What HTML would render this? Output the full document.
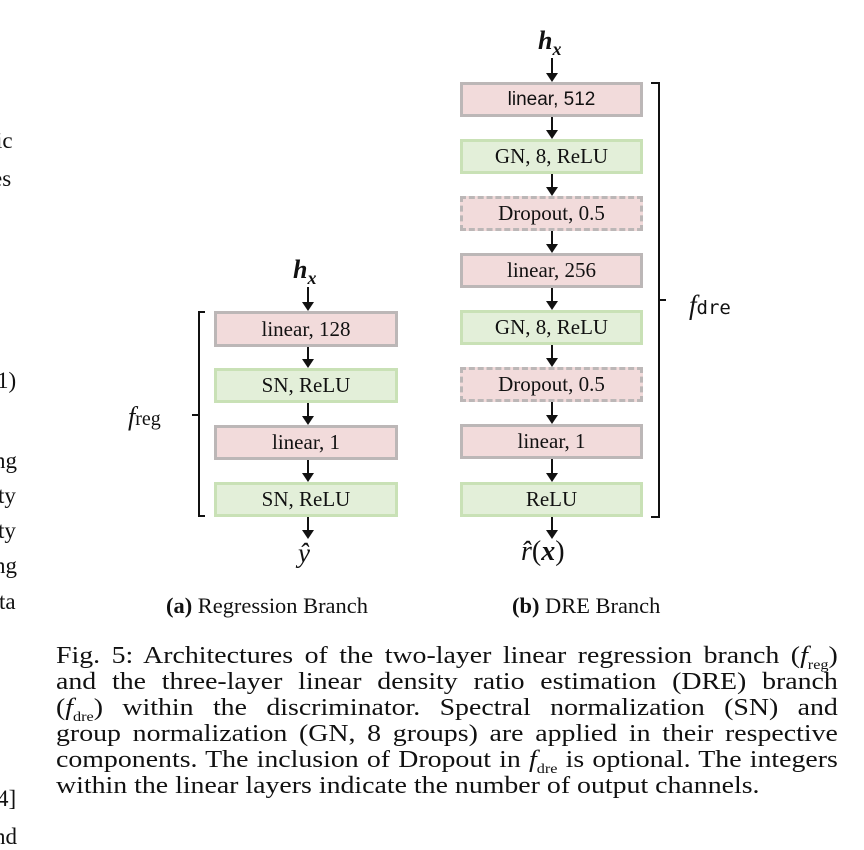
<!DOCTYPE html>
<html><head><style>
body{margin:0;width:864px;height:848px;background:#fff;position:relative;overflow:hidden;font-family:"Liberation Serif",serif;color:#111}
.b{position:absolute;box-sizing:border-box;border:3px solid;display:flex;align-items:center;justify-content:center;font-size:21px}
.p{background:#f2dbdb;border-color:#bcb7b7}
.g{background:#e3efd9;border-color:#c9e1b6}
.d{border-style:dashed}
.s{font-family:"Liberation Sans",sans-serif;font-size:19px}
.a{position:absolute;width:2px;background:#111}
.a:after{content:"";position:absolute;left:-5px;bottom:-2px;border-left:6px solid transparent;border-right:6px solid transparent;border-top:9px solid #111}
.t{position:absolute;white-space:nowrap}
.cap{position:absolute;left:56px;top:643px;width:674px;transform:scaleX(1.16);transform-origin:0 0;font-size:24px;line-height:26px;text-align:justify}
.cap div{text-align-last:justify;height:26px;white-space:nowrap}
</style></head><body>
<div class="t" style="left:0;top:128px;font-size:23px;width:18px;overflow:hidden"><span style="margin-left:-4px">ic</span></div>
<div class="t" style="left:0;top:166px;font-size:23px;width:18px;overflow:hidden"><span style="margin-left:-8px">es</span></div>
<div class="t" style="left:0;top:368px;font-size:23px;width:18px;overflow:hidden"><span style="margin-left:-3px">1)</span></div>
<div class="t" style="left:0;top:448px;font-size:23px;width:18px;overflow:hidden"><span style="margin-left:-6px">ng</span></div>
<div class="t" style="left:0;top:483px;font-size:23px;width:18px;overflow:hidden"><span style="margin-left:-2px">ty</span></div>
<div class="t" style="left:0;top:518px;font-size:23px;width:18px;overflow:hidden"><span style="margin-left:-2px">ty</span></div>
<div class="t" style="left:0;top:553px;font-size:23px;width:18px;overflow:hidden"><span style="margin-left:-6px">ng</span></div>
<div class="t" style="left:0;top:589px;font-size:23px;width:18px;overflow:hidden"><span style="margin-left:-1px">ta</span></div>
<div class="t" style="left:0;top:786px;font-size:23px;width:18px;overflow:hidden"><span style="margin-left:-3px">4]</span></div>
<div class="t" style="left:0;top:824px;font-size:23px;width:18px;overflow:hidden"><span style="margin-left:-6px">nd</span></div>

<div class="t" style="left:293px;top:255px;font-size:26px;font-weight:bold;font-style:italic">h<sub style="font-size:18px">x</sub></div>
<div class="a" style="left:307px;top:287px;height:22px"></div>
<div class="b p" style="left:214px;top:311px;width:184px;height:36px">linear, 128</div>
<div class="a" style="left:307px;top:347px;height:19px"></div>
<div class="b g" style="left:214px;top:368px;width:184px;height:35px">SN, ReLU</div>
<div class="a" style="left:307px;top:403px;height:20px"></div>
<div class="b p" style="left:214px;top:425px;width:184px;height:35px">linear, 1</div>
<div class="a" style="left:307px;top:460px;height:20px"></div>
<div class="b g" style="left:214px;top:482px;width:184px;height:35px">SN, ReLU</div>
<div class="a" style="left:307px;top:517px;height:20px"></div>
<div class="t" style="left:298px;top:538px;font-size:27px;font-style:italic">ŷ</div>
<svg style="position:absolute;left:185px;top:310px" width="30" height="212"><path d="M20 2 H14 V206 H20 M14 105 H7" fill="none" stroke="#111" stroke-width="2"/></svg>
<div class="t" style="left:128px;top:402px;font-size:26px"><i>f</i><span style="font-size:20px">reg</span></div>

<div class="t" style="left:538px;top:26px;font-size:26px;font-weight:bold;font-style:italic">h<sub style="font-size:18px">x</sub></div>
<div class="a" style="left:551px;top:58px;height:22px"></div>
<div class="b p s" style="left:460px;top:82px;width:183px;height:35px">linear, 512</div>
<div class="a" style="left:551px;top:117px;height:20px"></div>
<div class="b g" style="left:460px;top:139px;width:183px;height:35px">GN, 8, ReLU</div>
<div class="a" style="left:551px;top:174px;height:20px"></div>
<div class="b p d" style="left:460px;top:196px;width:183px;height:35px">Dropout, 0.5</div>
<div class="a" style="left:551px;top:231px;height:20px"></div>
<div class="b p" style="left:460px;top:253px;width:183px;height:35px">linear, 256</div>
<div class="a" style="left:551px;top:288px;height:20px"></div>
<div class="b g" style="left:460px;top:310px;width:183px;height:35px">GN, 8, ReLU</div>
<div class="a" style="left:551px;top:345px;height:20px"></div>
<div class="b p d" style="left:460px;top:367px;width:183px;height:35px">Dropout, 0.5</div>
<div class="a" style="left:551px;top:402px;height:20px"></div>
<div class="b p" style="left:460px;top:424px;width:183px;height:35px">linear, 1</div>
<div class="a" style="left:551px;top:459px;height:21px"></div>
<div class="b g" style="left:460px;top:482px;width:183px;height:35px">ReLU</div>
<div class="a" style="left:551px;top:517px;height:20px"></div>
<div class="t" style="left:521px;top:536px;font-size:28px"><i>r̂</i>(<b><i>x</i></b>)</div>
<svg style="position:absolute;left:645px;top:80px" width="30" height="442"><path d="M6 3 H14 V437 H6 M14 220 H21" fill="none" stroke="#111" stroke-width="2"/></svg>
<div class="t" style="left:689px;top:290px;font-size:27px"><i>f</i><span style="font-family:'DejaVu Sans Mono',monospace;font-size:19px">dre</span></div>

<div class="t" style="left:166px;top:593px;font-size:22px;transform:scaleX(1.02);transform-origin:0 0"><b>(a)</b> Regression Branch</div>
<div class="t" style="left:512px;top:593px;font-size:22px;transform:scaleX(1.02);transform-origin:0 0"><b>(b)</b> DRE Branch</div>

<div class="cap">
<div>Fig. 5: Architectures of the two-layer linear regression branch (<i>f</i><sub style="font-size:14px">reg</sub>)</div>
<div>and the three-layer linear density ratio estimation (DRE) branch</div>
<div>(<i>f</i><sub style="font-size:14px">dre</sub>) within the discriminator. Spectral normalization (SN) and</div>
<div>group normalization (GN, 8 groups) are applied in their respective</div>
<div>components. The inclusion of Dropout in <i>f</i><sub style="font-size:14px">dre</sub> is optional. The integers</div>
<div style="text-align-last:left">within the linear layers indicate the number of output channels.</div>
</div>
</body></html>
